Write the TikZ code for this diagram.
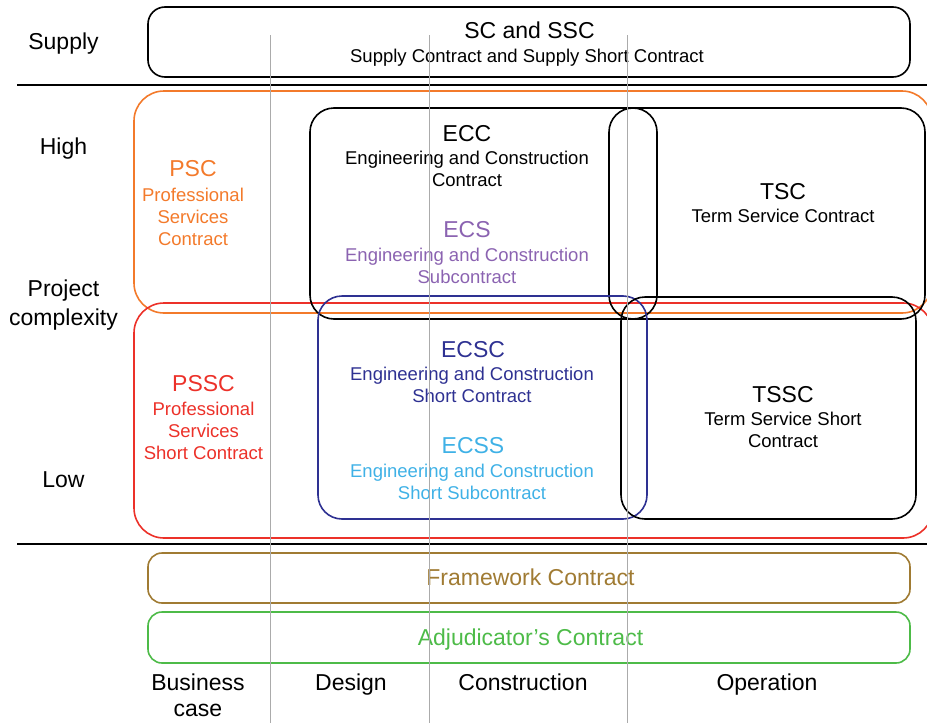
\documentclass[tikz,border=0pt]{standalone}
\usepackage{fontspec}
\setmainfont{Liberation Sans}

\definecolor{pscorange}{HTML}{F37A2B}
\definecolor{psscred}{HTML}{EC3129}
\definecolor{ecspurple}{HTML}{8B63B1}
\definecolor{ecscnavy}{HTML}{2E3192}
\definecolor{ecssblue}{HTML}{3FB1E6}
\definecolor{fwbrown}{HTML}{A07B33}
\definecolor{adjgreen}{HTML}{4DBB48}

\begin{document}
\begin{tikzpicture}[x=1pt, y=-1pt,
    box/.style={line width=1.6pt, rounded corners=24pt},
    ttl/.style={font=\fontsize{23}{28}\selectfont, inner sep=0pt},
    sub/.style={font=\fontsize{18.5}{22}\selectfont, align=center, inner sep=0pt},
    lbl/.style={font=\fontsize{23}{28.5}\selectfont, align=center, inner sep=0pt},
    phase/.style={black!33, line width=0.9pt}]
    \clip (0,0) rectangle (927,723);

    % ==================== HÀNG TRÊN: SUPPLY ====================
    \draw[box, rounded corners=17pt] (148,7) rectangle (910,77);
    \node[ttl] (sc) at (529.5,30.5) {SC and SSC};
    \node[sub] (scsub) at (527,58) {Supply Contract and Supply Short Contract};

    % Đường kẻ ngang phân vùng
    \draw[line width=1.6pt] (17,85) -- (927,85);
    \draw[line width=1.6pt] (17,544) -- (927,544);

    % ==================== KHỐI PSC / PSSC ====================
    \draw[box, pscorange, rounded corners=30pt] (134,91) rectangle (932,313);
    \draw[box, psscred, rounded corners=30pt] (134,303) rectangle (933,538);

    \node[ttl, pscorange] (psc) at (193,168.5) {PSC};
    \node[sub, pscorange] (pscsub) at (193,216.5) {Professional\\Services\\Contract};
    \node[ttl, psscred] (pssc) at (203.5,383.5) {PSSC};
    \node[sub, psscred] (psscsub) at (203.5,430.5) {Professional\\Services\\Short Contract};

    % ==================== KHỐI ECC / TSC ====================
    \draw[box] (310,108) rectangle (657,319);
    \draw[box] (609,108) rectangle (925,319);

    \node[ttl] (ecc) at (467,133.5) {ECC};
    \node[sub] (eccsub) at (467,169) {Engineering and Construction\\Contract};
    \node[ttl, ecspurple] (ecs) at (467,229.5) {ECS};
    \node[sub, ecspurple] (ecssub) at (467,266) {Engineering and Construction\\Subcontract};

    \node[ttl] (tsc) at (783,191.5) {TSC};
    \node[sub] (tscsub) at (783,216) {Term Service Contract};

    % ==================== KHỐI ECSC / TSSC ====================
    \draw[box, ecscnavy] (318,296) rectangle (647,519);
    \draw[box] (621,297) rectangle (916,519);

    \node[ttl, ecscnavy] (ecsc) at (473,349.5) {ECSC};
    \node[sub, ecscnavy] (ecscsub) at (472,385) {Engineering and Construction\\Short Contract};
    \node[ttl, ecssblue] (ecss) at (473,445.5) {ECSS};
    \node[sub, ecssblue] (ecsssub) at (472,481.5) {Engineering and Construction\\Short Subcontract};

    \node[ttl] (tssc) at (783,394.5) {TSSC};
    \node[sub] (tsscsub) at (783,430) {Term Service Short\\Contract};

    % ==================== HÀNG DƯỚI ====================
    \draw[box, fwbrown, rounded corners=14pt] (148,553) rectangle (910,603);
    \draw[box, adjgreen, rounded corners=14pt] (148,612) rectangle (910,663);
    \node[lbl, fwbrown] (fw) at (530.5,577.5) {Framework Contract};
    \node[lbl, adjgreen] (adj) at (530.5,639.5) {Adjudicator’s Contract};

    % Nhãn bên trái
    \node[lbl] (supply) at (63.5,43.5) {Supply};
    \node[lbl] (high) at (63.5,149) {High};
    \node[lbl] (cplx) at (63.5,305) {Project\\complexity};
    \node[lbl] (low) at (63.5,480) {Low};

    % Nhãn các giai đoạn
    \node[lbl, font=\fontsize{23}{26}\selectfont] (bcase) at (198,695) {Business\\case};
    \node[lbl] (design) at (351,684.5) {Design};
    \node[lbl] (constr) at (523,682) {Construction};
    \node[lbl] (oper) at (767,684.5) {Operation};

    % Vạch chia giai đoạn (vẽ sau cùng)
    \foreach \x in {270,429,627}
        \draw[phase] (\x,35) -- (\x,723);
\end{tikzpicture}
\end{document}
